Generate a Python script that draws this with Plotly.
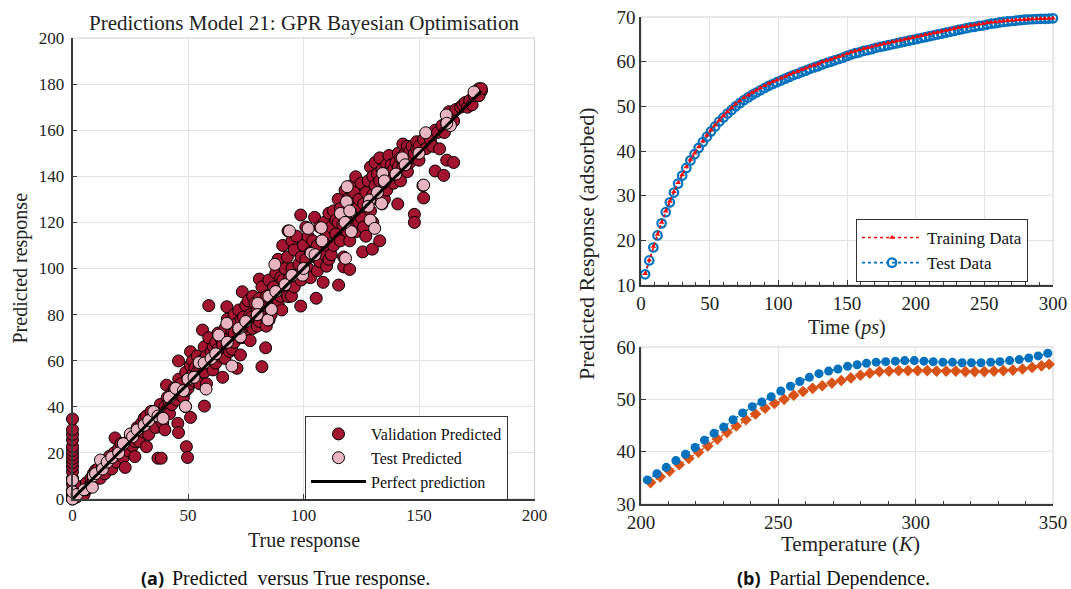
import plotly.graph_objects as go

# ---------------- data: panel (a) ----------------
val_points = [
    (0,0),(0,1),(0,2.5),(0,4),(0,6.5),(0,9),(0,11.9),(0,14),(0,15.8),(0,17.5),(0,19.2),(0,21),(0,22.8),(0,25.7),(0,28),(0,30.1),(0,34.7),
    (1,0.5),(2,1),(3,2),(2,3.5),(4,3),(4,5.5),(5,2),(6,4),(6,7),(7,5),(8,6.5),(8,9),(9,8),(9,11),(10,9.5),(10,12.5),(11,10),(11,13),
    (12,11),(12,9),(13,12),(13,15),(14,13),(14,11),(15,14),(15,17),(16,15),(16,18.5),(17,16),(17,13),(18,17),(18,20),(18.4,26.5),(19,18),(19,16),(20,19),(20,22),
    (21,20),(21,24),(22,21),(22,18),(22.8,13.7),(23,22),(24,25),(24,21),(25,24),(26,23),(26,27),(27,18.4),(27,25),(27,29),(28,27),(28,31),(29,28),(29,25),(30,30),(30,33),(31,35),
    (31,29),(32,31),(32,22.7),(32,36),(33,32),(33,28),(34,34),(34,38),(35,33),(36,36),(36,31),(37,17.7),(37,38),(38.4,17.7),(38,36),(38,41),(39,37),(39,33),(40,40),(40,30),(40.7,49.4),
    (41,39),(41,44),(42,42),(42,37),(43,41),(43,46),(44,44),(44,48),(45,43),(45.6,32.8),(45.9,28.8),(46,46),(46,52),(45.9,59.9),(47,45),(47,50),(48,44),(48.9,40.1),(49,47),(49.3,22.7),(49.8,18),(49,55),(50,52),(50,48),
    (51,50),(51,58),(51.1,63.9),(51.1,35.4),(52,54),(52,60),(53,51),(53,57),(54,55),(54,62),(55,58),(55,50),(56.3,73.3),(56,60),(57.1,40.3),(57,55),(57,66),(58,62),(58,50),(59,83.9),(59,70),(60,64),(60,58),(60.8,56),
    (61,66),(61,60),(62,68),(62,59),(63,65),(63,72),(64,62),(64,70),(65,52.8),(65,67),(66,74),(66,61),(66.8,83.4),(67,66),(67,78),(68,70),(68,64),(69,73),(69,65),(70,72),(70,68),(70,80),
    (71,76),(71.2,56.7),(72,73),(72,82),(72.7,62.5),(73,70),(73,78),(73.5,89.9),(74,79),(74,72),(75,84),(75,70),(76,76),(76,86),(76.9,68.7),(77,80),(77.6,79),(78,74),(78,88),(79,85),(79,78),(80,75),(80,82),(80.9,95.4),
    (81,87),(81,77),(82,57.4),(82,80),(82,92),(83,84),(83.6,65.6),(83.9,75),(84,88),(85.1,77.7),(85,95),(86,86),(86,80),(87,92),(87,83),(88,90),(88,98),(89,85),(89,104),(90,88),(90.6,82),(90,96),
    (91,95),(91,110),(92,90),(92,100),(93,105),(93.3,87.8),(93.3,116.3),(94,96),(94.8,88),(95,100),(95,112),(96,108),(96,92),(97,97),(97,114),(98,102),(98.8,83.7),(98.8,123.2),(99,105),(99,95),(100,110),(100,98),
    (101,104),(101,118),(102,100),(102,114),(103,107),(103,96),(104,112),(104.8,122.2),(105,105),(105.5,87.1),(106,110),(106,99),(107,118),(107,103),(108,112),(108.5,94),(109,106),(109,120),(110,110),(110,115),(110,101),
    (111,104),(111,124),(112,118),(112,106),(113,110),(113,125),(114,115),(114,121),(115,120),(115.2,92.8),(115,130),(116,112),(116,126),(117.4,105),(117.4,100.7),(117,119),(118,122),(118,134),(119,116),(119,130),(120,99.6),(120,124),(120,112),
    (121,128),(121,136),(122,120),(122,133),(122.6,139.8),(123,126),(123,116),(124,130),(124,120),(125,122),(125.6,107.2),(125,137),(126,128),(126,118),(127,133),(127,114),(128,138),(128,126),(129,125),(129.8,108.4),(129,144),(130,132),(130,140),(130,120),
    (131,136),(131,146),(132,141),(132,130),(133,112),(133,138),(133,148),(134,128),(134,143),(135,140),(135,130),(136,145),(136,134),(137,142),(137,149),(138,140),(138,145),(139,143),(139,137),(140,146),(140,141),(140.8,128),
    (141,144),(141,150),(142,148),(142,138),(143,144),(143,154),(144,150),(144,147),(145,142),(145,153),(146,146),(146,151),(147,153),(147,148),(148,123.5),(148,120),(148,150),(149,152),(149,155),(150,153),(150,147),
    (151.7,136),(152,130.6),(152,156),(153,152),(154,158),(155,156),(156,153),(157,142.3),(157,160),(158,159),(158.9,151.9),(160,162),(160.7,140.4),(161,159),
    (162,147),(162,163),(163,168),(165,146),(165,164),(166,169),(168,170),(169,171),(170,172),(171,170),(172,173),(173,171),(174,175),(175,176),(176,178),(177,177),(176,175),(177,178),
]
test_points = [
    (0,0),(0,3.2),(0,8.2),(2,2),(5,4),(8.6,5.1),(9,10),(10,11),(12.1,16.9),(13,13),(15,16),(17,18),(20,20),(22,24),(25,28.2),(26,27),(28,30),(31,32),(33,34),(35.2,37.9),
    (37,36),(39.2,35),(41.9,44.1),(44.7,48),(48.9,40.2),(48,47),(50,52),(52.6,52.8),(54.8,59.2),(57.8,47.7),(57,59),(60,61),(63.3,71.1),(62,63),(66.8,76.2),(69,57.7),
    (67,68),(72.7,70.4),(72,74),(75,77),(80.2,84.9),(80,80),(84.6,77.7),(86.1,82.3),(85,88),(87.6,101.8),(88,90),(93.9,116.3),(92,93),(95,97),(99.6,97.1),(102,117.4),
    (103.3,106.6),(100,100),(107.7,117.7),(105,106),(108,112),(116,123.9),(118.2,104.4),(118.9,135.5),(118.6,129),(120.4,124.6),(120.7,116),(118,120),(120,125),
    (128.6,129.7),(128.9,121),(130.8,117.4),(128,127),(134.3,141.2),(135,137.4),(133.8,128.2),(132,133),(135,138),(142.8,148),(140,141),(144,145),(152,136.2),
    (152.9,158.9),(150,150),(161.8,166.6),(163.6,162),(162,163),(173.8,176.6),
]
val_true = [p[0] for p in val_points]
val_pred = [p[1] for p in val_points]
test_true = [p[0] for p in test_points]
test_pred = [p[1] for p in test_points]
perfect_line = [0, 177]

# ---------------- data: panel (b) top ----------------
time_ps = list(range(3, 301, 3))
train_resp = [12.5,15.6,18.6,21.3,24.0,26.5,28.7,30.9,32.9,34.7,
              36.4,38.1,39.5,40.9,42.2,43.5,44.7,45.8,46.9,47.9,
              48.8,49.7,50.5,51.2,51.9,52.5,53.1,53.6,54.1,54.6,
              55.1,55.5,55.9,56.3,56.7,57.1,57.5,57.8,58.2,58.5,
              58.9,59.2,59.5,59.9,60.2,60.5,60.8,61.1,61.4,61.8,
              62.1,62.4,62.6,62.9,63.1,63.3,63.6,63.8,64.0,64.2,
              64.4,64.6,64.8,65.0,65.2,65.4,65.6,65.8,66.0,66.2,
              66.4,66.6,66.8,67.0,67.2,67.4,67.6,67.8,67.9,68.1,
              68.2,68.4,68.5,68.7,68.8,68.9,69.0,69.1,69.2,69.3,
              69.35,69.4,69.45,69.5,69.55,69.6,69.6,69.65,69.65,69.7]
test_resp = [12.4,15.5,18.4,21.1,23.8,26.3,28.5,30.7,32.7,34.5,
             36.2,37.9,39.3,40.7,42.0,43.2,44.4,45.5,46.6,47.5,
             48.4,49.2,50.0,50.7,51.4,52.0,52.6,53.1,53.6,54.1,
             54.6,55.0,55.4,55.8,56.2,56.6,57.0,57.3,57.7,58.0,
             58.4,58.7,59.0,59.4,59.7,60.0,60.3,60.6,60.9,61.3,
             61.6,61.9,62.1,62.4,62.6,62.8,63.1,63.3,63.5,63.7,
             63.9,64.1,64.3,64.5,64.7,64.9,65.1,65.3,65.5,65.7,
             65.9,66.1,66.3,66.5,66.7,66.9,67.1,67.3,67.5,67.7,
             67.8,68.0,68.1,68.3,68.5,68.6,68.8,68.9,69.0,69.1,
             69.2,69.3,69.4,69.45,69.5,69.55,69.6,69.6,69.65,69.7]

# ---------------- data: panel (b) bottom ----------------
temp_blue = [202.3,205.8,209.2,212.7,216.2,219.7,223.1,226.6,230.1,233.5,237.0,240.5,244.0,247.4,250.9,
             254.4,257.8,261.3,264.8,268.3,271.7,275.2,278.7,282.1,285.6,289.1,292.6,296.0,299.5,303.0,
             306.4,309.9,313.4,316.9,320.3,323.8,327.3,330.7,334.2,337.7,341.2,344.6,348.1]
resp_blue = [34.6,35.8,37.0,38.3,39.5,40.8,42.2,43.5,44.7,46.1,47.4,48.6,49.5,50.5,51.6,
             52.5,53.4,54.2,54.9,55.4,55.8,56.3,56.6,56.9,57.1,57.2,57.3,57.4,57.4,57.3,
             57.2,57.1,57.1,57.0,57.0,57.0,57.1,57.2,57.4,57.6,57.9,58.3,58.8]
temp_orange = [203.5,207.0,210.4,213.9,217.4,220.9,224.3,227.8,231.3,234.7,238.2,241.7,245.2,248.6,252.1,
               255.6,259.0,262.5,266.0,269.5,272.9,276.4,279.9,283.3,286.8,290.3,293.8,297.2,300.7,304.2,
               307.6,311.1,314.6,318.1,321.5,325.0,328.5,331.9,335.4,338.9,342.4,345.8,348.6]
resp_orange = [34.1,35.2,36.3,37.5,38.7,39.9,41.1,42.4,43.7,44.9,46.1,47.2,48.3,49.2,50.0,
               50.8,51.5,52.1,52.6,53.1,53.6,54.1,54.6,55.0,55.3,55.4,55.5,55.5,55.5,55.5,
               55.4,55.4,55.4,55.3,55.3,55.3,55.4,55.5,55.6,55.8,56.1,56.4,56.7]

# ---------------- layout helpers ----------------
W, H = 1071, 589
def px(x):
    return x / W
def py(y):
    return 1 - y / H

SERIF = "Liberation Serif, Times New Roman, serif"
SANS = "Open Sans, DejaVu Sans, sans-serif"
VAL_C = "#A2142F"
TEST_C = "#E9B4C1"
BLUE = "#0072BD"
ORANGE = "#D95319"

fig = go.Figure()

# panel (a)
fig.add_trace(go.Scatter(x=val_true, y=val_pred, mode="markers", name="Validation Predicted",
                         marker=dict(size=12, color=VAL_C, line=dict(color="black", width=1)),
                         cliponaxis=False, xaxis="x", yaxis="y", legend="legend"))
fig.add_trace(go.Scatter(x=test_true, y=test_pred, mode="markers", name="Test Predicted",
                         marker=dict(size=12, color=TEST_C, line=dict(color="black", width=1)),
                         cliponaxis=False, xaxis="x", yaxis="y", legend="legend"))
fig.add_trace(go.Scatter(x=perfect_line, y=perfect_line, mode="lines", name="Perfect prediction",
                         line=dict(color="black", width=3), xaxis="x", yaxis="y", legend="legend"))

# panel (b) top
fig.add_trace(go.Scatter(x=time_ps, y=test_resp, mode="lines+markers", name="Test Data",
                         line=dict(color=BLUE, width=1.8, dash="dot"),
                         marker=dict(symbol="circle-open", size=8.5, color=BLUE, line=dict(width=2.2, color=BLUE)),
                         cliponaxis=False, xaxis="x2", yaxis="y2", legend="legend2", legendrank=2))
fig.add_trace(go.Scatter(x=time_ps, y=train_resp, mode="lines+markers", name="Training Data",
                         line=dict(color="#FF0000", width=1.5, dash="dot"),
                         marker=dict(symbol="triangle-up", size=5, color="#FF0000"),
                         cliponaxis=False, xaxis="x2", yaxis="y2", legend="legend2", legendrank=1))

# panel (b) bottom
fig.add_trace(go.Scatter(x=temp_orange, y=resp_orange, mode="lines+markers", showlegend=False,
                         line=dict(color=ORANGE, width=1.5, dash="dot"),
                         marker=dict(symbol="diamond", size=9, color=ORANGE),
                         cliponaxis=False, xaxis="x3", yaxis="y3"))
fig.add_trace(go.Scatter(x=temp_blue, y=resp_blue, mode="lines+markers", showlegend=False,
                         line=dict(color=BLUE, width=1.5, dash="dot"),
                         marker=dict(symbol="circle", size=9, color=BLUE),
                         cliponaxis=False, xaxis="x3", yaxis="y3"))

axis_common = dict(showline=True, linecolor="#3a3a3a", linewidth=1.5, ticks="inside", ticklen=5,
                   tickcolor="#3a3a3a", showgrid=True, gridcolor="#e2e2e2", gridwidth=1,
                   zeroline=False, fixedrange=True, automargin=False)

fig.update_layout(
    width=W, height=H, margin=dict(l=0, r=0, t=0, b=0, pad=0, autoexpand=False),
    paper_bgcolor="white", plot_bgcolor="white",
    font=dict(family=SERIF, color="#222"),
    xaxis=dict(domain=[px(72.5), px(534.5)], range=[0, 200], dtick=50, anchor="y",
               tickfont=dict(family=SERIF, size=17, color="#222"), **axis_common),
    yaxis=dict(domain=[py(499), py(38)], range=[0, 200], dtick=20, anchor="x",
               tickfont=dict(family=SERIF, size=17, color="#222"), ticklabelstandoff=3, **axis_common),
    xaxis2=dict(domain=[px(641), px(1053)], range=[0, 300], dtick=50, anchor="y2",
                tickfont=dict(family=SERIF, size=19, color="#222"),
                minor=dict(dtick=10, ticks="inside", ticklen=3, tickcolor="#3a3a3a", showgrid=False),
                **axis_common),
    yaxis2=dict(domain=[py(285), py(17)], range=[10, 70], dtick=10, anchor="x2",
                tickfont=dict(family=SERIF, size=19, color="#222"), **axis_common),
    xaxis3=dict(domain=[px(641), px(1053)], range=[200, 350], dtick=50, anchor="y3",
                tickfont=dict(family=SERIF, size=19, color="#222"),
                minor=dict(dtick=10, ticks="inside", ticklen=3, tickcolor="#3a3a3a", showgrid=False),
                **axis_common),
    yaxis3=dict(domain=[py(504), py(347)], range=[30, 60], dtick=10, anchor="x3",
                tickfont=dict(family=SERIF, size=19, color="#222"), **axis_common),
    legend=dict(x=px(305), y=py(416), xanchor="left", yanchor="top", bgcolor="white",
                bordercolor="#333", borderwidth=1, font=dict(family=SERIF, size=16, color="#111"),
                itemwidth=55, tracegroupgap=0, traceorder="normal"),
    legend2=dict(x=px(856), y=py(219), xanchor="left", yanchor="top", bgcolor="white",
                 bordercolor="#333", borderwidth=1, font=dict(family=SERIF, size=17, color="#111"),
                 itemwidth=60, tracegroupgap=0, traceorder="normal"),
)

# light top/right box edges
for xr, yr in [("x domain", "y domain"), ("x2 domain", "y2 domain"), ("x3 domain", "y3 domain")]:
    fig.add_shape(type="rect", xref=xr, yref=yr, x0=0, x1=1, y0=0, y1=1,
                  line=dict(color="#d0d0d0", width=1), layer="below")

def ann(text, x, y, size, family=SERIF, angle=0, xanchor="center", color="#222"):
    fig.add_annotation(text=text, x=px(x), y=py(y), xref="paper", yref="paper",
                       xanchor=xanchor, yanchor="middle", showarrow=False, textangle=angle,
                       font=dict(family=family, size=size, color=color))

ann("Predictions Model 21: GPR Bayesian Optimisation", 303.5, 23, 21)
ann("True response", 303.5, 540, 20)
ann("Predicted response", 20, 268.5, 20, angle=-90)
ann("Time (<i>ps</i>)", 847, 327, 20)
ann("Temperature (<i>K</i>)", 850, 544, 21)
ann("Predicted Response (adsorbed)", 586, 244, 22, angle=-90)
ann("<b>(a)</b>", 166, 578, 18, family=SANS, xanchor="right", color="#111")
ann("Predicted&nbsp; versus True response.", 170, 578, 20, xanchor="left", color="#111")
ann("<b>(b)</b>", 763, 578, 18, family=SANS, xanchor="right", color="#111")
ann("Partial Dependence.", 767, 578, 20, xanchor="left", color="#111")

fig.write_html("out.html", config={"displayModeBar": False},
               post_script="document.body.style.margin='0';document.body.style.overflow='hidden';")
